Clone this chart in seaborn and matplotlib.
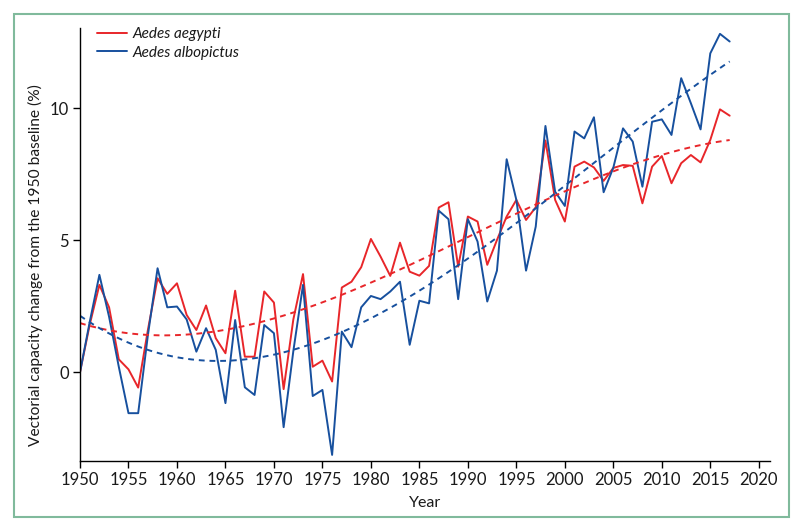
import numpy as np
import pandas as pd
import matplotlib
matplotlib.use("Agg")
import matplotlib.pyplot as plt
import seaborn as sns
from matplotlib.patches import Rectangle

years = list(range(1950, 2018))

aegypti = [0, 1.8, 3.31, 2.46, 0.49, 0.11, -0.58, 1.6, 3.56, 2.97,
           3.37, 2.17, 1.6, 2.53, 1.29, 0.72, 3.09, 0.59, 0.59, 3.06,
           2.64, -0.64, 2.0, 3.72, 0.21, 0.44, -0.35, 3.21, 3.43, 3.98,
           5.05, 4.38, 3.65, 4.91, 3.81, 3.66, 4.03, 6.24, 6.44, 4.0,
           5.9, 5.71, 4.07, 5.01, 5.9, 6.53, 5.77, 6.25, 8.78, 6.53,
           5.71, 7.79, 7.98, 7.76, 7.25, 7.74, 7.85, 7.82, 6.4, 7.79,
           8.19, 7.16, 7.92, 8.23, 7.95, 8.8, 9.96, 9.72]

albopictus = [0, 1.9, 3.69, 2.1, 0.21, -1.55, -1.55, 1.4, 3.94, 2.46,
              2.49, 2.0, 0.78, 1.67, 0.85, -1.17, 1.98, -0.57, -0.86, 1.79,
              1.48, -2.08, 0.8, 3.31, -0.9, -0.67, -3.13, 1.54, 0.95, 2.46,
              2.89, 2.77, 3.06, 3.43, 1.04, 2.71, 2.61, 6.12, 5.8, 2.77,
              5.8, 4.95, 2.68, 3.85, 8.07, 6.53, 3.85, 5.52, 9.33, 6.84,
              6.3, 9.12, 8.86, 9.66, 6.82, 7.75, 9.24, 8.74, 7.03, 9.49,
              9.58, 8.99, 11.14, 10.19, 9.2, 12.08, 12.82, 12.53]

x_ticks = list(range(1950, 2021, 5))
y_ticks = [0, 5, 10]

sns.set_style("ticks")
plt.rcParams['font.family'] = ['Lato', 'DejaVu Sans']

red = '#e8262a'
blue = '#17509e'
txt = '#1a1a1a'

df = pd.DataFrame({'Year': years + years,
                   'value': aegypti + albopictus,
                   'species': ['Aedes aegypti'] * len(years) + ['Aedes albopictus'] * len(years)})

fig = plt.figure(figsize=(8, 5.31), dpi=100)
ax = fig.add_axes([0.1, 0.1324, 0.863, 0.8143])

sns.lineplot(data=df, x='Year', y='value', hue='species',
             palette=[red, blue], linewidth=1.4, ax=ax)

# polynomial trends
sns.regplot(x=years, y=aegypti, order=3, ci=None, scatter=False, ax=ax,
            line_kws=dict(color=red, linestyle=(0, (3, 2.5)), linewidth=1.4))
sns.regplot(x=years, y=albopictus, order=3, ci=None, scatter=False, ax=ax,
            line_kws=dict(color=blue, linestyle=(0, (3, 2.5)), linewidth=1.4))

ax.set_xlim(1950, 2021.2)
ax.set_ylim(-3.35, 13.03)
ax.set_xticks(x_ticks)
ax.set_yticks(y_ticks)
ax.tick_params(labelsize=12, length=5, width=1, color='black', labelcolor=txt, pad=3)
for s in ['top', 'right']:
    ax.spines[s].set_visible(False)
for s in ['left', 'bottom']:
    ax.spines[s].set_color('black')
    ax.spines[s].set_linewidth(1)
ax.set_xlabel('Year', fontsize=11.5, color=txt)
ax.set_ylabel('Vectorial capacity change from the 1950 baseline (%)', fontsize=11.2, color=txt)
ax.yaxis.set_label_coords(-0.054, 0.453)
ax.xaxis.set_label_coords(0.5, -0.082)

leg = ax.legend(loc='upper left', bbox_to_anchor=(0.004, 1.035), frameon=False,
                handlelength=2.0, fontsize=11, labelspacing=0.3, handletextpad=0.35)
for t in leg.get_texts():
    t.set_fontstyle('italic')
    t.set_color(txt)

fig.patches.append(Rectangle((0.0175, 0.026), 0.969, 0.948, transform=fig.transFigure,
                             fill=False, edgecolor='#80ba9c', linewidth=1.5))

fig.savefig('out.png', dpi=100)
